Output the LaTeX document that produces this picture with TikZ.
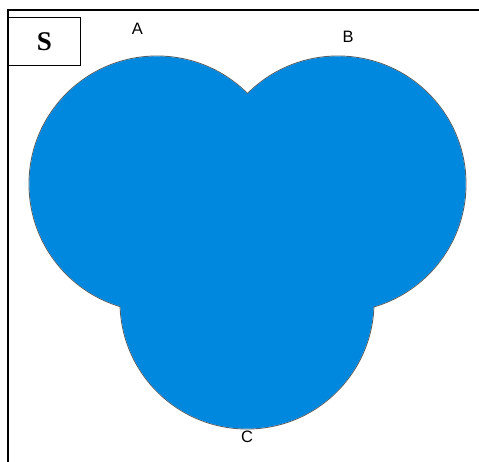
\documentclass[tikz,border=0pt]{standalone}
\usepackage{fontspec}
\setmainfont{Liberation Serif}
\newfontfamily\labfont{Liberation Sans}
\definecolor{setblue}{RGB}{0,135,222}
\definecolor{edgegray}{RGB}{90,90,90}
\begin{document}
\begin{tikzpicture}[x=1pt,y=-1pt,
  setlabel/.style={font=\labfont\fontsize{16.5}{16.5}\selectfont,inner sep=0pt},
  setedge/.style={draw=edgegray,line width=0.9pt},
  setfill/.style={fill=setblue}]
\useasboundingbox (0,0) rectangle (479,461);
\begin{scope}
\clip (0,0) rectangle (479,461);
\draw[line width=2pt] (8,9.5) rectangle (495,480);
\end{scope}
\node[draw,line width=1pt,minimum width=72pt,minimum height=48pt,inner sep=0pt,anchor=north west,
  font=\bfseries\fontsize{27}{27}\selectfont] (S) at (8,17) {S};
\coordinate (ca) at (157,184);
\coordinate (cb) at (338,184);
\coordinate (cc) at (247,302);
\draw[setedge] (ca) circle[radius=128];
\draw[setedge] (cb) circle[radius=128];
\draw[setedge] (cc) circle[radius=127];
\fill[setfill] (ca) circle[radius=127.6];
\fill[setfill] (cb) circle[radius=127.6];
\fill[setfill] (cc) circle[radius=126.6];
\node[setlabel] (A) at (137.5,28.5) {A};
\node[setlabel] (B) at (348,36.5) {B};
\node[setlabel] (C) at (247,436.5) {C};
\end{tikzpicture}
\end{document}
